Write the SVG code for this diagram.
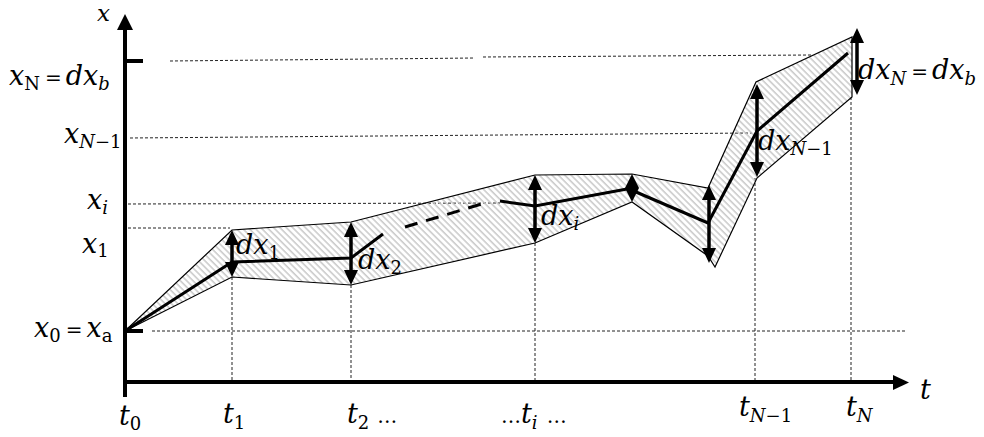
<svg xmlns="http://www.w3.org/2000/svg" width="984" height="437" viewBox="0 0 984 437">
<defs>
<style>
.ax{stroke:#000;stroke-width:4;fill:none}
.dot{stroke:#222;stroke-width:1;stroke-dasharray:3 2;fill:none}
.band{fill:url(#hatch);stroke:#000;stroke-width:1.2;stroke-linejoin:miter}
.mean{stroke:#000;stroke-width:3;fill:none;stroke-linejoin:miter}
.dash{stroke:#000;stroke-width:3;stroke-dasharray:13 9;fill:none}
.dbl{stroke:#000;stroke-width:3.5;marker-start:url(#ah);marker-end:url(#ah)}
.t{font-family:"DejaVu Serif","Liberation Serif",serif;font-style:italic;font-size:27px;fill:#000}
.s{font-size:18px}
.u{font-style:normal}
.eq{font-style:normal;font-size:20px}
.el{font-style:normal;font-size:20px}
</style>
<pattern id="hatch" width="4.5" height="4.5" patternUnits="userSpaceOnUse" patternTransform="rotate(-45)">
<line x1="1" y1="0" x2="1" y2="4.5" stroke="#c4c4c4" stroke-width="1.4"/>
</pattern>
<marker id="ah" viewBox="0 0 15 14" refX="2" refY="7" markerWidth="15" markerHeight="14" markerUnits="userSpaceOnUse" orient="auto-start-reverse">
<path d="M0,0 L15,7 L0,14 z" fill="#000"/>
</marker>
</defs>
<rect width="984" height="437" fill="#fff"/>

<g id="guides">
<path class="dot" d="M170,61 L475,58 M483,57 L812,55"/>
<path class="dot" d="M130,138 L752,133"/>
<path class="dot" d="M128,204 L500,203"/>
<path class="dot" d="M128,228 L230,228"/>
<path class="dot" d="M152,331 L905,331"/>
<path class="dot" d="M232,277 V382 M351,285 V382 M535,243 V382 M755,178 V382 M851,97 V382"/>
</g>

<g id="band">
<polygon class="band" points="125,331 232,230 351,222 535,175 632,174 708,188 756,82 852,37 852,97 757,178 715,267 708,256 632,202 535,243 351,285 232,277"/>
</g>

<g id="mean">
<polyline class="mean" points="125,331 232,262 351,258 383,234"/>
<path class="dash" d="M405,227 L485,203"/>
<polyline class="mean" points="500,201 535,206 627,189"/>
<polyline class="mean" points="636,192 708,223 757,131 848,53"/>
</g>

<g id="axes">
<line class="ax" x1="125" y1="397" x2="125" y2="28"/>
<polygon points="125,14 117,30 133,30" fill="#000"/>
<line class="ax" x1="123" y1="382" x2="895" y2="382"/>
<polygon points="909,382.5 893,375 893,390" fill="#000"/>
<line class="ax" x1="125" y1="61" x2="143" y2="61" stroke-width="5"/>
<line class="ax" x1="125" y1="331" x2="143" y2="331" stroke-width="5"/>
</g>

<g id="connectors">
<line class="dbl" x1="232" y1="243" x2="232" y2="264"/>
<line class="dbl" x1="351" y1="235" x2="351" y2="272"/>
<line class="dbl" x1="535" y1="188" x2="535" y2="230"/>
<polygon points="632,174 639,188 632,202 625,188" fill="#000"/>
<line class="dbl" x1="709" y1="198" x2="709" y2="250"/>
<line class="dbl" x1="757" y1="97" x2="757" y2="164"/>
<line class="dbl" x1="857" y1="41" x2="857" y2="82"/>
</g>

<g id="labels">
<text class="t" x="97" y="21" style="font-size:23px">x</text>
<text class="t" x="9" y="85">x<tspan class="s u" dy="5">N</tspan><tspan class="eq" dx="5" dy="-5">=</tspan><tspan dx="4">d</tspan>x<tspan class="s" dy="5">b</tspan></text>
<text class="t" x="64" y="143">x<tspan class="s" dy="5">N</tspan><tspan class="s u">−1</tspan></text>
<text class="t" x="87" y="209">x<tspan class="s" dy="5">i</tspan></text>
<text class="t" x="82" y="253">x<tspan class="s u" dy="4">1</tspan></text>
<text class="t" x="34" y="337">x<tspan class="s u" dy="5">0</tspan><tspan class="eq" dx="5" dy="-5">=</tspan><tspan dx="4">x</tspan><tspan class="s u" dy="5">a</tspan></text>

<text class="t" x="119" y="425">t<tspan class="s u" dy="5">0</tspan></text>
<text class="t" x="223" y="423">t<tspan class="s u" dy="6">1</tspan></text>
<text class="t" x="347" y="423">t<tspan class="s u" dy="6">2</tspan><tspan class="el" dx="8" dy="-6">…</tspan></text>
<text class="t" x="501" y="423"><tspan class="el">…</tspan>t<tspan class="s" dy="6">i</tspan><tspan class="el" dx="9" dy="-6">…</tspan></text>
<text class="t" x="739" y="416">t<tspan class="s" dy="6">N</tspan><tspan class="s u">−1</tspan></text>
<text class="t" x="846" y="416">t<tspan class="s" dy="6">N</tspan></text>
<text class="t" x="920" y="399">t</text>

<text class="t" x="236" y="254">dx<tspan class="s u" dy="5">1</tspan></text>
<text class="t" x="358" y="269">dx<tspan class="s u" dy="5">2</tspan></text>
<text class="t" x="541" y="225">dx<tspan class="s" dy="5">i</tspan></text>
<text class="t" x="758" y="150">dx<tspan class="s" dy="5">N</tspan><tspan class="s u">−1</tspan></text>
<text class="t" x="858" y="79">dx<tspan class="s" dy="6">N</tspan><tspan class="eq" dx="5" dy="-6">=</tspan><tspan dx="4">dx</tspan><tspan class="s" dy="6">b</tspan></text>
</g>
</svg>
